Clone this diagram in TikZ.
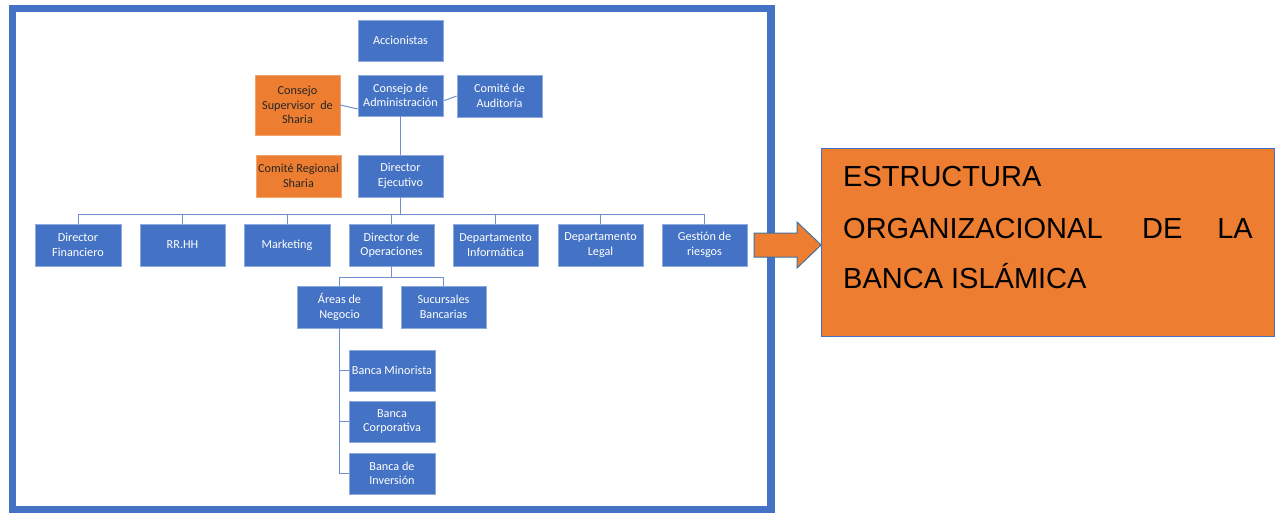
\documentclass[tikz,border=0pt]{standalone}
\usepackage{fontspec}
\setmainfont{Liberation Sans}
\newfontfamily\boxfont{Carlito}
\usetikzlibrary{calc}
\definecolor{obBlue}{HTML}{4472C4}
\definecolor{obOrange}{HTML}{ED7D31}
\definecolor{obLine}{HTML}{6F8FCF}
\definecolor{obEdge}{HTML}{41719C}
\tikzset{
  bbox/.style={rectangle, fill=obBlue, draw=obBlue!60!white, line width=0.6pt, text=white,
    font=\boxfont\fontsize{12.2}{14.5}\selectfont, align=center, inner sep=0pt,
    minimum width=85, minimum height=42},
  obox/.style={bbox, fill=obOrange, draw=obOrange!70!white, text=black!85},
  conn/.style={draw=obLine, line width=1pt},
}
\begin{document}
\begin{tikzpicture}[x=1pt,y=-1pt]
\useasboundingbox (0,0) rectangle (1279,513);
% frame
\draw[obBlue, line width=7.5pt] (12.5,8.5) rectangle (771,509.5);

% top
\node[bbox, minimum height=41] (acc) at (400.5,40.5) {Accionistas};
\node[bbox, minimum height=41] (cda) at (400.5,95.5) {Consejo de\\Administración};
\node[bbox] (cau) at (499.5,96) {Comité de\\Auditoría};
\node[obox, minimum height=60] (csup) at (297.5,105) {Consejo\\Supervisor\ \ de\\Sharia};
\node[obox] (creg) at (298.5,176) {Comité Regional\\Sharia};
\node[bbox] (dej) at (400.5,176) {Director\\Ejecutivo};

% row
\node[bbox, minimum width=86] (df) at (78,245) {Director\\Financiero};
\node[bbox] (rrhh) at (182.5,245) {RR.HH};
\node[bbox, minimum width=86] (mkt) at (287,245) {Marketing};
\node[bbox] (dop) at (391.5,245) {Director de\\Operaciones};
\node[bbox] (dinf) at (495.5,245) {Departamento\\Informática};
\node[bbox] (dleg) at (600.5,245) {Departamento\\Legal};
\node[bbox] (ges) at (704.5,245) {Gestión de\\riesgos};

% lower
\node[bbox] (arn) at (339.5,307) {Áreas de\\Negocio};
\node[bbox] (suc) at (443.5,307) {Sucursales\\Bancarias};
\node[bbox, minimum width=86, minimum height=41] (bmin) at (392,370.5) {Banca Minorista};
\node[bbox, minimum width=86, minimum height=41] (bcor) at (392,421.5) {Banca\\Corporativa};
\node[bbox, minimum width=86, minimum height=41] (binv) at (392,473.5) {Banca de\\Inversión};

% connectors
\draw[conn] (cda.south) -- (dej.north);
\draw[conn] (csup.east) -- ($(cda.west)+(0,13.5)$);
\draw[conn] ($(cda.east)+(1,5)$) -- ($(cau.west)+(0,0)$);
\coordinate (bus) at (400.5,214);
\draw[conn] (dej.south) -- (bus);
\draw[conn] (df.north |- bus) -- (ges.north |- bus);
\foreach \n in {df,rrhh,mkt,dop,dinf,dleg,ges}{
  \draw[conn] (\n.north) -- (\n.north |- bus);
}
\coordinate (bus2) at (391.5,277);
\draw[conn] (dop.south) -- (bus2);
\draw[conn] (arn.north) -- (arn.north |- bus2) -- (suc.north |- bus2) -- (suc.north);
\draw[conn] (arn.south) -- (arn.south |- binv.west);
\foreach \n in {bmin,bcor,binv}{
  \draw[conn] (arn.south |- \n.west) -- (\n.west);
}

% title box
\node[rectangle, fill=obOrange, draw=obBlue, line width=0.8pt, minimum width=453, minimum height=188, inner sep=0pt] (title) at (1048,242) {};
\draw[fill=obOrange, draw=obEdge, line width=1pt]
  (754,233) -- (797,233) -- (797,222) -- (title.west |- 0,245) -- (797,268) -- (797,257) -- (754,257) -- cycle;
\begin{scope}[every node/.style={font=\fontsize{29}{34}\selectfont, text=black, inner sep=0pt}]
\node[anchor=base west] (t1) at (843,187) {ESTRUCTURA};
\node[anchor=base west] (t2) at (843,238) {ORGANIZACIONAL};
\node[anchor=base west] (t3) at (1142,238) {DE};
\node[anchor=base east] (t4) at (1253,238) {LA};
\node[anchor=base west] (t5) at (843,288) {BANCA ISLÁMICA};
\end{scope}
\end{tikzpicture}
\end{document}
